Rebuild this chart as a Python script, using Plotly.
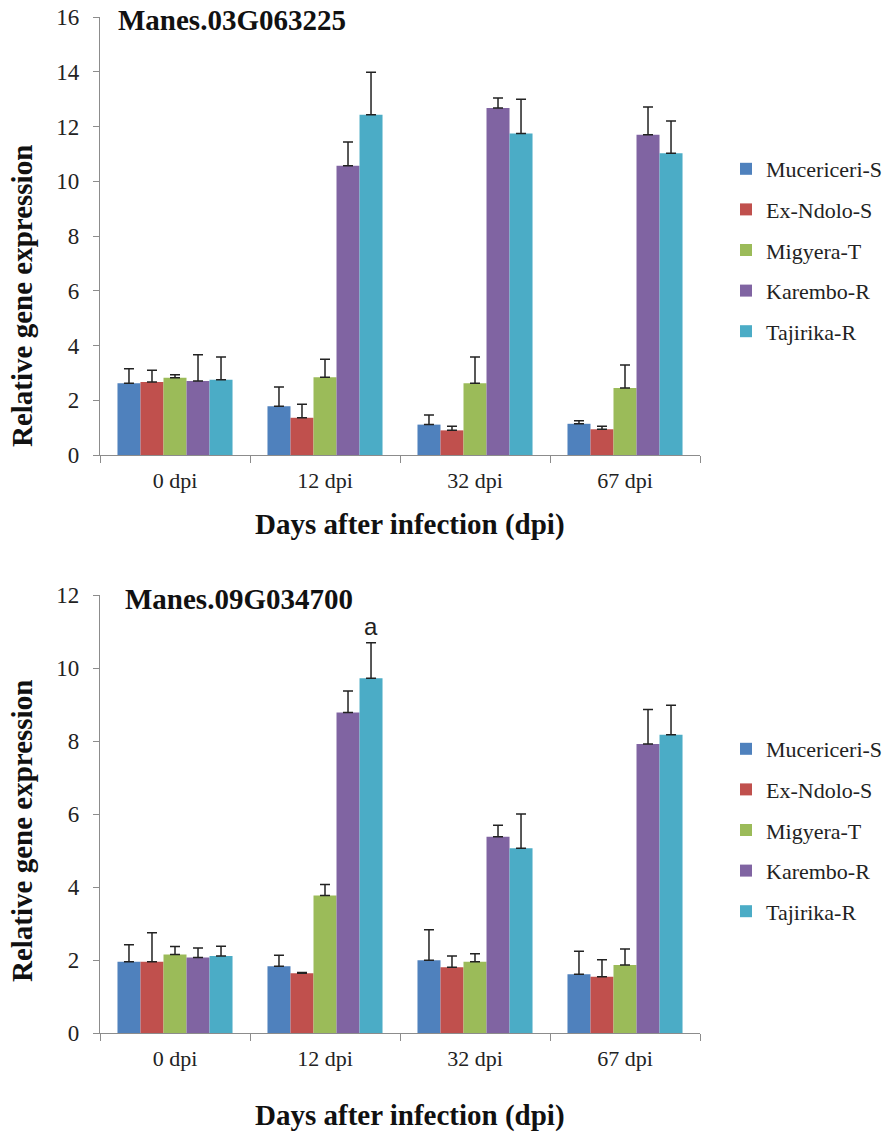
import plotly.graph_objects as go

categories = ["0 dpi", "12 dpi", "32 dpi", "67 dpi"]
cultivars = ["Mucericeri-S", "Ex-Ndolo-S", "Migyera-T", "Karembo-R", "Tajirika-R"]
colors = ["#4F81BD", "#C0504D", "#9BBB59", "#8064A2", "#4BACC6"]

# Manes.03G063225 (top panel): mean values and upper error
top_values = [
    [2.62, 1.78, 1.11, 1.14],
    [2.67, 1.36, 0.90, 0.94],
    [2.82, 2.84, 2.62, 2.45],
    [2.70, 10.57, 12.68, 11.70],
    [2.75, 12.43, 11.74, 11.02],
]
top_errors = [
    [0.53, 0.70, 0.35, 0.11],
    [0.43, 0.49, 0.15, 0.11],
    [0.11, 0.66, 0.96, 0.84],
    [0.96, 0.86, 0.36, 1.01],
    [0.83, 1.55, 1.26, 1.18],
]

# Manes.09G034700 (bottom panel)
bot_values = [
    [1.95, 1.83, 1.99, 1.61],
    [1.95, 1.64, 1.80, 1.54],
    [2.15, 3.77, 1.95, 1.86],
    [2.07, 8.78, 5.38, 7.92],
    [2.11, 9.72, 5.06, 8.17],
]
bot_errors = [
    [0.47, 0.30, 0.84, 0.63],
    [0.80, 0.02, 0.31, 0.47],
    [0.22, 0.30, 0.22, 0.44],
    [0.26, 0.59, 0.31, 0.94],
    [0.27, 0.97, 0.94, 0.81],
]

SERIF = "Liberation Serif, Tinos, DejaVu Serif, serif"
AXIS_COLOR = "#8c8c8c"

fig = go.Figure()
for i, name in enumerate(cultivars):
    fig.add_trace(go.Bar(
        x=categories, y=top_values[i], name=name,
        marker=dict(color=colors[i], line=dict(width=0)),
        error_y=dict(type="data", array=top_errors[i], arrayminus=[0] * 4,
                     symmetric=False, color="#222222", thickness=1.5, width=5),
        xaxis="x", yaxis="y", legend="legend", legendgroup="t" + str(i),
    ))
for i, name in enumerate(cultivars):
    fig.add_trace(go.Bar(
        x=categories, y=bot_values[i], name=name,
        marker=dict(color=colors[i], line=dict(width=0)),
        error_y=dict(type="data", array=bot_errors[i], arrayminus=[0] * 4,
                     symmetric=False, color="#222222", thickness=1.5, width=5),
        xaxis="x2", yaxis="y2", legend="legend2", legendgroup="b" + str(i),
    ))

H = 1139
L, R, T, B = 100, 184, 17, 106
PH = H - T - B


def py(p):
    return (H - B - p) / PH


def px(p):
    return (p - L) / 600


xaxis_common = dict(
    showline=True, linecolor=AXIS_COLOR, linewidth=1.3,
    ticks="outside", tickson="boundaries", ticklen=7, tickcolor=AXIS_COLOR,
    tickfont=dict(family=SERIF, size=22, color="#222", weight="normal"),
    showgrid=False, zeroline=False, ticklabelstandoff=5,
)
yaxis_common = dict(
    showline=True, linecolor=AXIS_COLOR, linewidth=1.3,
    ticks="outside", ticklen=6, tickcolor=AXIS_COLOR,
    tickfont=dict(family=SERIF, size=23, color="#222", weight="normal"),
    showgrid=False, zeroline=False, ticklabelstandoff=9,
)

legend_common = dict(
    font=dict(family=SERIF, size=22, color="#222", weight="normal"),
    bgcolor="rgba(0,0,0,0)", tracegroupgap=9,
    xanchor="left", yanchor="top",
)

fig.update_layout(
    width=884, height=H,
    margin=dict(l=L, r=R, t=T, b=B, autoexpand=False),
    paper_bgcolor="white", plot_bgcolor="white",
    font=dict(family=SERIF),
    barmode="group", bargap=0.233, bargroupgap=0,
    xaxis=dict(domain=[0, 1], anchor="y", **xaxis_common),
    yaxis=dict(domain=[py(455), 1], anchor="x", range=[0, 16], dtick=2, **yaxis_common),
    xaxis2=dict(domain=[0, 1], anchor="y2", **xaxis_common),
    yaxis2=dict(domain=[0, py(595)], anchor="x2", range=[0, 12], dtick=2, **yaxis_common),
    legend=dict(x=px(726), y=py(148), **legend_common),
    legend2=dict(x=px(726), y=py(728), **legend_common),
    showlegend=True,
)

ann = []
ann.append(dict(text="<b>Manes.03G063225</b>", x=px(116), y=py(20), xref="paper", yref="paper",
                xanchor="left", yanchor="middle", showarrow=False,
                font=dict(family=SERIF, size=29, color="#111")))
ann.append(dict(text="<b>Manes.09G034700</b>", x=px(123), y=py(599), xref="paper", yref="paper",
                xanchor="left", yanchor="middle", showarrow=False,
                font=dict(family=SERIF, size=29, color="#111")))
for yc in (296, 831):
    ann.append(dict(text="<b>Relative gene expression</b>", x=px(22), y=py(yc),
                    xref="paper", yref="paper", xanchor="center", yanchor="middle",
                    textangle=-90, showarrow=False,
                    font=dict(family=SERIF, size=29, color="#111")))
for yc in (524, 1115):
    ann.append(dict(text="<b>Days after infection (dpi)</b>", x=px(410), y=py(yc),
                    xref="paper", yref="paper", xanchor="center", yanchor="middle",
                    showarrow=False, font=dict(family=SERIF, size=29, color="#111")))
ann.append(dict(text="a", x=1.307, y=bot_values[4][1] + bot_errors[4][1], xref="x2", yref="y2",
                xanchor="center", yanchor="bottom", yshift=1, showarrow=False,
                font=dict(family="Liberation Sans", size=24, color="#222")))
fig.update_layout(annotations=ann)

fig.write_html("out.html")
